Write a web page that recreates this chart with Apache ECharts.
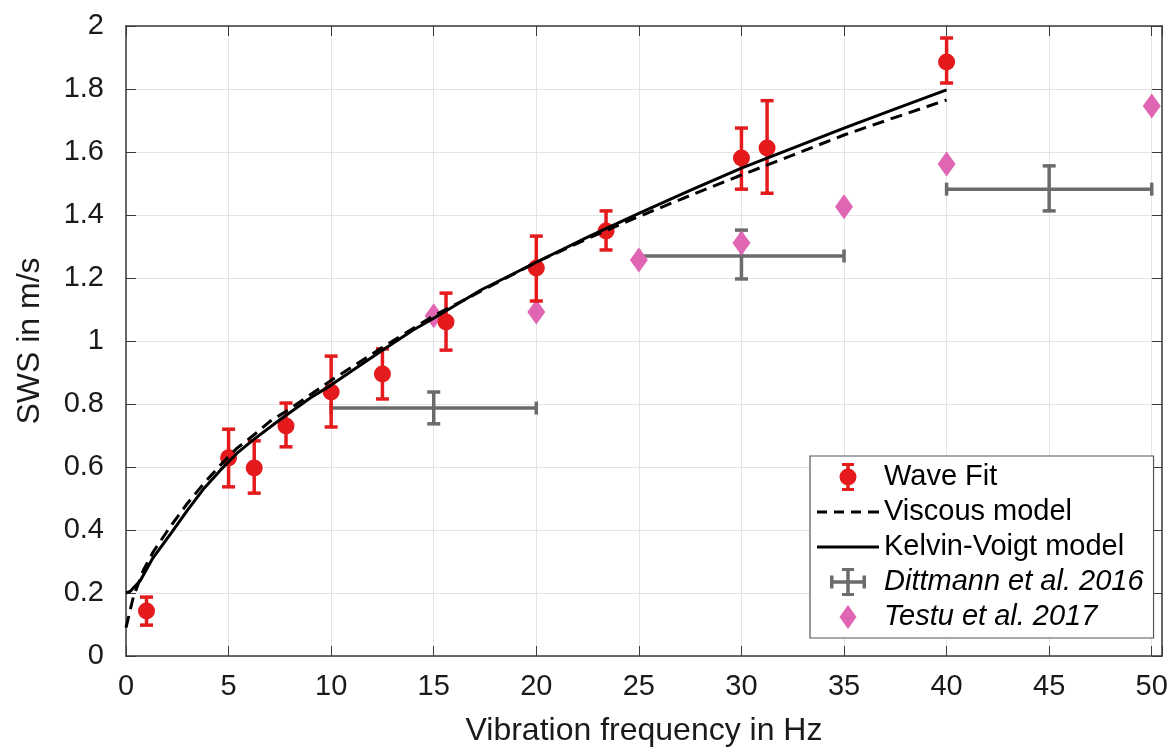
<!DOCTYPE html>
<html>
<head>
<meta charset="utf-8">
<script src="https://cdn.jsdelivr.net/npm/echarts@6/dist/echarts.min.js"></script>
<style>
html,body{margin:0;padding:0;background:#fff;}
#chart{width:1174px;height:751px;}
</style>
</head>
<body>
<div id="chart"></div>
<script>
// ---- Data ----
const waveX  = [1, 5, 6.25, 7.8, 10, 12.5, 15.6, 20, 23.4, 30, 31.25, 40];
const waveY  = [0.143, 0.629, 0.597, 0.730, 0.838, 0.895, 1.060, 1.232, 1.349, 1.581, 1.613, 1.886];
const waveLo = [0.098, 0.537, 0.517, 0.664, 0.727, 0.816, 0.971, 1.127, 1.289, 1.482, 1.469, 1.819];
const waveHi = [0.187, 0.720, 0.683, 0.803, 0.952, 0.975, 1.152, 1.333, 1.413, 1.676, 1.763, 1.962];

const viscousX = [0, 0.36, 0.85, 1.33, 2.15, 3, 3.8, 4.6, 5.4, 6.2, 7, 8, 10, 12.5, 15, 17.5, 20, 22.5, 25, 27.5, 30, 32.5, 35, 37.5, 40];
const viscousY = [0.09, 0.188, 0.273, 0.331, 0.41, 0.485, 0.548, 0.606, 0.659, 0.70, 0.744, 0.785, 0.875, 0.98, 1.08, 1.165, 1.25, 1.325, 1.395, 1.462, 1.527, 1.59, 1.654, 1.71, 1.765];

const kvX = [0, 0.2, 0.7, 1.3, 2.2, 3, 3.8, 4.6, 5.4, 6.2, 7.5, 9, 10, 11, 12.5, 14, 15, 17.3, 20, 22.5, 25, 27.5, 30, 32.5, 35, 37.5, 40];
const kvY = [0.20, 0.205, 0.24, 0.31, 0.39, 0.463, 0.532, 0.59, 0.643, 0.686, 0.75, 0.82, 0.86, 0.905, 0.971, 1.035, 1.072, 1.162, 1.25, 1.33, 1.405, 1.478, 1.549, 1.612, 1.676, 1.737, 1.797];

const dittX   = [15, 30, 45];
const dittY   = [0.787, 1.270, 1.482];
const dittXLo = [10, 25, 40];
const dittXHi = [20, 35, 50];
const dittYLo = [0.737, 1.197, 1.413];
const dittYHi = [0.838, 1.352, 1.556];

const testuX = [15, 20, 25, 30, 35, 40, 50];
const testuY = [1.080, 1.092, 1.257, 1.311, 1.426, 1.562, 1.746];

const xTicks = [0, 5, 10, 15, 20, 25, 30, 35, 40, 45, 50];
const yTicks = [0, 0.2, 0.4, 0.6, 0.8, 1, 1.2, 1.4, 1.6, 1.8, 2];

const names = ['Wave Fit', 'Viscous model', 'Kelvin-Voigt model', 'Dittmann et al. 2016', 'Testu et al. 2017'];

// ---- Styling ----
const FONT = "'Liberation Sans', Arial, sans-serif";
const RED = '#e41a1c';
const PINK = '#e066b4';
const GRAY = '#6b6b6b';
const AXIS = '#3a3a3a';

const chart = echarts.init(document.getElementById('chart'), null, {renderer: 'canvas'});

function zip(a, b) { return a.map((v, i) => [v, b[i]]); }

function errY(params, api) {
  const x = api.value(0), lo = api.value(1), hi = api.value(2);
  const p1 = api.coord([x, lo]), p2 = api.coord([x, hi]);
  const cw = 6.5;
  const st = {stroke: RED, lineWidth: 3.5, fill: null};
  return {type: 'group', children: [
    {type: 'line', shape: {x1: p1[0], y1: p1[1], x2: p2[0], y2: p2[1]}, style: st},
    {type: 'line', shape: {x1: p1[0] - cw, y1: p1[1], x2: p1[0] + cw, y2: p1[1]}, style: st},
    {type: 'line', shape: {x1: p2[0] - cw, y1: p2[1], x2: p2[0] + cw, y2: p2[1]}, style: st}
  ]};
}

function errXY(params, api) {
  const x = api.value(0), y = api.value(1);
  const xlo = api.value(2), xhi = api.value(3), ylo = api.value(4), yhi = api.value(5);
  const a = api.coord([xlo, y]), b = api.coord([xhi, y]);
  const c = api.coord([x, ylo]), d = api.coord([x, yhi]);
  const cw = 6.5;
  const st = {stroke: GRAY, lineWidth: 3.5, fill: null};
  return {type: 'group', children: [
    {type: 'line', shape: {x1: a[0], y1: a[1], x2: b[0], y2: b[1]}, style: st},
    {type: 'line', shape: {x1: a[0], y1: a[1] - cw, x2: a[0], y2: a[1] + cw}, style: st},
    {type: 'line', shape: {x1: b[0], y1: b[1] - cw, x2: b[0], y2: b[1] + cw}, style: st},
    {type: 'line', shape: {x1: c[0], y1: c[1], x2: d[0], y2: d[1]}, style: st},
    {type: 'line', shape: {x1: c[0] - cw, y1: c[1], x2: c[0] + cw, y2: c[1]}, style: st},
    {type: 'line', shape: {x1: d[0] - cw, y1: d[1], x2: d[0] + cw, y2: d[1]}, style: st}
  ]};
}

// legend icons (box 62 x 30)
const iconWave = 'path://M0 0M62 30' +
  'M25 1h12v3h-12Z M25 26h12v3h-12Z M29.25 1h3.5v28h-3.5Z' +
  'M22.5 15A8.5 8.5 0 1 1 39.5 15A8.5 8.5 0 1 1 22.5 15Z';
const iconDitt = 'path://M0 0M62 30' +
  'M13 13.25h36v3.5h-36Z M13 8.5h3.5v13h-3.5Z M45.5 8.5h3.5v13h-3.5Z' +
  'M29.25 1h3.5v28h-3.5Z M25 1h12v3h-12Z M25 26h12v3h-12Z';
const iconTestu = 'path://M0 0M62 30M31 3L39.5 15L31 27L22.5 15Z';
const iconDash = 'path://M0 0M62 30' +
  'M0 13.5h10v3h-10Z M17 13.5h10v3h-10Z M34 13.5h10v3h-10Z M51 13.5h11v3h-11Z';
const iconSolid = 'path://M0 0M62 30M0 13.5h62v3h-62Z';

const fmtNum = v => String(Math.round(v * 1000) / 1000);

const option = {
  animation: false,
  backgroundColor: '#fff',
  textStyle: {fontFamily: FONT},
  grid: {left: 126, right: 12, top: 26, bottom: 95, containLabel: false, outerBoundsMode: 'none', show: false},
  legend: {
    orient: 'vertical',
    left: 810,
    top: 456,
    padding: [6, 10, 6, 7],
    itemWidth: 62,
    itemHeight: 30,
    itemGap: 5,
    backgroundColor: '#fff',
    borderColor: '#555',
    borderWidth: 1.2,
    borderRadius: 0,
    textStyle: {
      fontFamily: FONT, fontSize: 29, color: '#000',
      rich: {i: {fontFamily: FONT, fontSize: 29, fontStyle: 'italic', color: '#000'}}
    },
    formatter: n => (n.indexOf('et al') >= 0 ? '{i|' + n + '}' : n),
    data: [
      {name: names[0], icon: iconWave},
      {name: names[1], icon: iconDash, itemStyle: {color: '#000', borderWidth: 0}},
      {name: names[2], icon: iconSolid, itemStyle: {color: '#000', borderWidth: 0}},
      {name: names[3], icon: iconDitt},
      {name: names[4], icon: iconTestu}
    ]
  },
  xAxis: [{
    type: 'value', min: xTicks[0], max: 50.5, interval: 5,
    position: 'bottom',
    name: 'Vibration frequency in Hz', nameLocation: 'middle', nameGap: 59, nameMoveOverlap: false,
    nameTextStyle: {fontFamily: FONT, fontSize: 32, color: '#1a1a1a'},
    axisLine: {show: true, onZero: false, lineStyle: {color: AXIS, width: 1.5}},
    axisTick: {show: true, inside: true, length: 10, lineStyle: {color: AXIS, width: 1}},
    axisLabel: {
      margin: 16, fontFamily: FONT, fontSize: 29, color: '#1a1a1a',
      formatter: v => (xTicks.indexOf(Math.round(v * 100) / 100) >= 0 ? fmtNum(v) : ''),
      showMaxLabel: true
    },
    splitLine: {show: true, lineStyle: {color: '#e4e4e4', width: 1}}
  }, {
    type: 'value', min: xTicks[0], max: 50.5, interval: 5,
    position: 'top',
    axisLine: {show: true, onZero: false, lineStyle: {color: AXIS, width: 1.5}},
    axisTick: {show: true, inside: true, length: 10, lineStyle: {color: AXIS, width: 1}},
    axisLabel: {show: false},
    splitLine: {show: false}
  }],
  yAxis: [{
    type: 'value', min: yTicks[0], max: yTicks[yTicks.length - 1], interval: 0.2,
    position: 'left',
    name: 'SWS in m/s', nameLocation: 'middle', nameGap: 80, nameRotate: 90, nameMoveOverlap: false,
    nameTextStyle: {fontFamily: FONT, fontSize: 32, color: '#1a1a1a'},
    axisLine: {show: true, onZero: false, lineStyle: {color: AXIS, width: 1.5}},
    axisTick: {show: true, inside: true, length: 10, lineStyle: {color: AXIS, width: 1}},
    axisLabel: {margin: 22, fontFamily: FONT, fontSize: 29, color: '#1a1a1a', formatter: v => fmtNum(v)},
    splitLine: {show: true, lineStyle: {color: '#e4e4e4', width: 1}}
  }, {
    type: 'value', min: yTicks[0], max: yTicks[yTicks.length - 1], interval: 0.2,
    position: 'right',
    axisLine: {show: true, onZero: false, lineStyle: {color: AXIS, width: 1.5}},
    axisTick: {show: true, inside: true, length: 10, lineStyle: {color: AXIS, width: 1}},
    axisLabel: {show: false},
    splitLine: {show: false}
  }],
  series: [
    {
      name: names[0], type: 'scatter', xAxisIndex: 0, yAxisIndex: 0,
      symbol: 'circle', symbolSize: 17,
      itemStyle: {color: RED, opacity: 1},
      data: zip(waveX, waveY), z: 4
    },
    {
      name: names[0], type: 'custom', xAxisIndex: 0, yAxisIndex: 0,
      renderItem: errY,
      itemStyle: {color: RED},
      encode: {x: 0, y: [1, 2]},
      data: waveX.map((x, i) => [x, waveLo[i], waveHi[i]]), z: 4
    },
    {
      name: names[1], type: 'line', xAxisIndex: 0, yAxisIndex: 0,
      symbol: 'none', smooth: false,
      lineStyle: {color: '#000', width: 3, type: [12, 7], join: 'round'},
      itemStyle: {color: '#000'},
      data: zip(viscousX, viscousY), z: 5
    },
    {
      name: names[2], type: 'line', xAxisIndex: 0, yAxisIndex: 0,
      symbol: 'none', smooth: false,
      lineStyle: {color: '#000', width: 3, type: 'solid', join: 'round'},
      itemStyle: {color: '#000'},
      data: zip(kvX, kvY), z: 5
    },
    {
      name: names[3], type: 'custom', xAxisIndex: 0, yAxisIndex: 0,
      renderItem: errXY,
      itemStyle: {color: GRAY},
      encode: {x: [0, 2, 3], y: [1, 4, 5]},
      data: dittX.map((x, i) => [x, dittY[i], dittXLo[i], dittXHi[i], dittYLo[i], dittYHi[i]]), z: 3
    },
    {
      name: names[4], type: 'scatter', xAxisIndex: 0, yAxisIndex: 0,
      symbol: 'diamond', symbolSize: [18, 25],
      itemStyle: {color: PINK, opacity: 1},
      data: zip(testuX, testuY), z: 3
    }
  ]
};

chart.setOption(option);
</script>
</body>
</html>
